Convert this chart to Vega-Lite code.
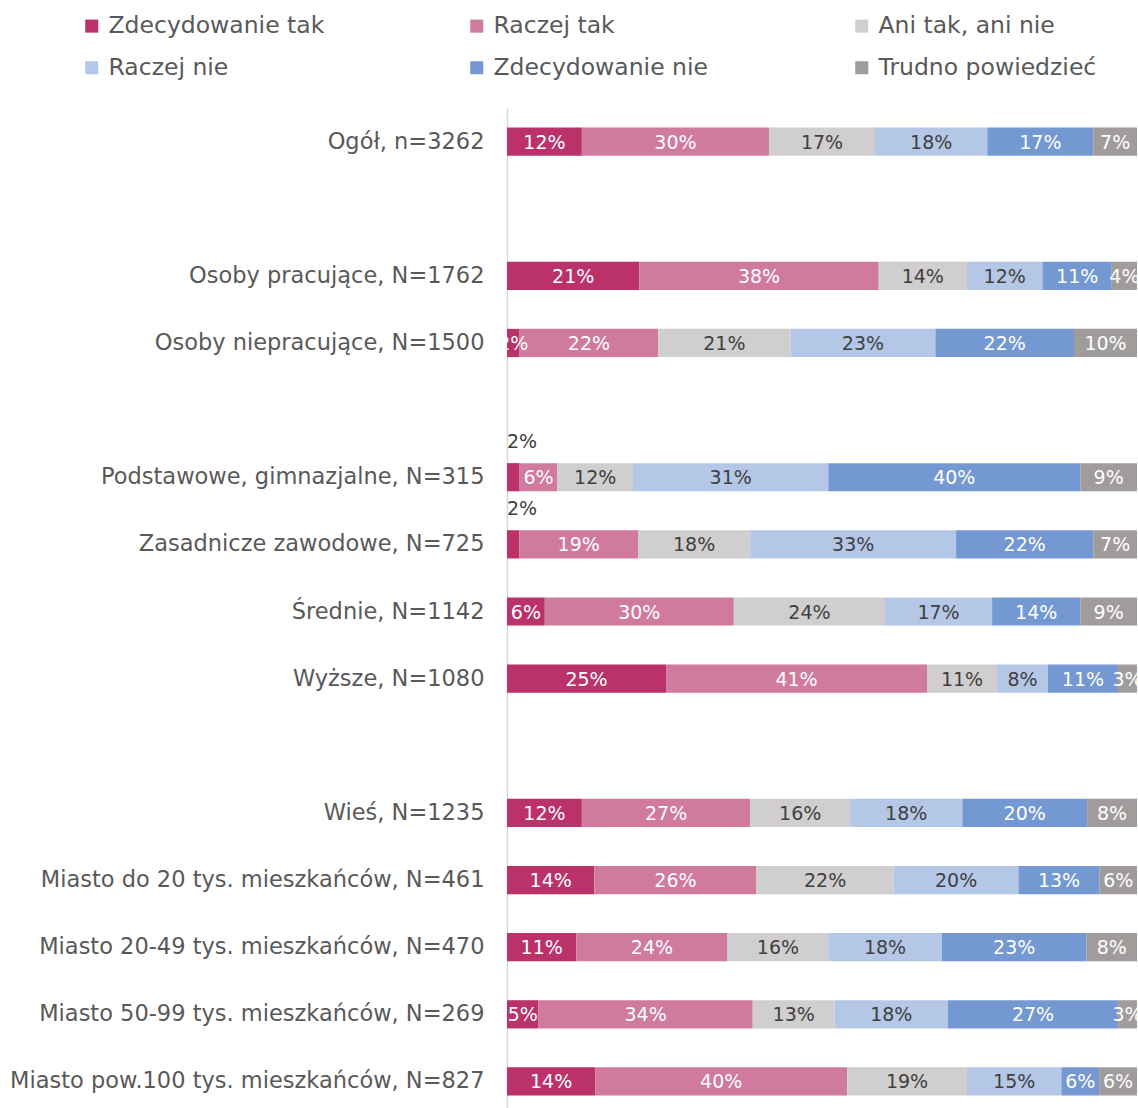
{
  "$schema": "https://vega.github.io/schema/vega-lite/v6.json",
  "autosize": "none",
  "width": 630,
  "height": 1007,
  "padding": {"left": 507, "top": 108, "right": 1, "bottom": 0},
  "background": "white",
  "config": {"view": {"stroke": null}, "font": "DejaVu Sans"},
  "data": {"values": [
    {"g": "Ogół, n=3262", "Zdecydowanie tak": 0.12, "Raczej tak": 0.30, "Ani tak, ani nie": 0.17, "Raczej nie": 0.18, "Zdecydowanie nie": 0.17, "Trudno powiedzieć": 0.07},
    {"g": "Osoby pracujące, N=1762", "Zdecydowanie tak": 0.21, "Raczej tak": 0.38, "Ani tak, ani nie": 0.14, "Raczej nie": 0.12, "Zdecydowanie nie": 0.11, "Trudno powiedzieć": 0.04},
    {"g": "Osoby niepracujące, N=1500", "Zdecydowanie tak": 0.02, "Raczej tak": 0.22, "Ani tak, ani nie": 0.21, "Raczej nie": 0.23, "Zdecydowanie nie": 0.22, "Trudno powiedzieć": 0.10},
    {"g": "Podstawowe, gimnazjalne, N=315", "Zdecydowanie tak": 0.02, "Raczej tak": 0.06, "Ani tak, ani nie": 0.12, "Raczej nie": 0.31, "Zdecydowanie nie": 0.40, "Trudno powiedzieć": 0.09},
    {"g": "Zasadnicze zawodowe, N=725", "Zdecydowanie tak": 0.02, "Raczej tak": 0.19, "Ani tak, ani nie": 0.18, "Raczej nie": 0.33, "Zdecydowanie nie": 0.22, "Trudno powiedzieć": 0.07},
    {"g": "Średnie, N=1142", "Zdecydowanie tak": 0.06, "Raczej tak": 0.30, "Ani tak, ani nie": 0.24, "Raczej nie": 0.17, "Zdecydowanie nie": 0.14, "Trudno powiedzieć": 0.09},
    {"g": "Wyższe, N=1080", "Zdecydowanie tak": 0.25, "Raczej tak": 0.41, "Ani tak, ani nie": 0.11, "Raczej nie": 0.08, "Zdecydowanie nie": 0.11, "Trudno powiedzieć": 0.03},
    {"g": "Wieś, N=1235", "Zdecydowanie tak": 0.12, "Raczej tak": 0.27, "Ani tak, ani nie": 0.16, "Raczej nie": 0.18, "Zdecydowanie nie": 0.20, "Trudno powiedzieć": 0.08},
    {"g": "Miasto do 20 tys. mieszkańców, N=461", "Zdecydowanie tak": 0.14, "Raczej tak": 0.26, "Ani tak, ani nie": 0.22, "Raczej nie": 0.20, "Zdecydowanie nie": 0.13, "Trudno powiedzieć": 0.06},
    {"g": "Miasto 20-49 tys. mieszkańców, N=470", "Zdecydowanie tak": 0.11, "Raczej tak": 0.24, "Ani tak, ani nie": 0.16, "Raczej nie": 0.18, "Zdecydowanie nie": 0.23, "Trudno powiedzieć": 0.08},
    {"g": "Miasto 50-99 tys. mieszkańców, N=269", "Zdecydowanie tak": 0.05, "Raczej tak": 0.34, "Ani tak, ani nie": 0.13, "Raczej nie": 0.18, "Zdecydowanie nie": 0.27, "Trudno powiedzieć": 0.03},
    {"g": "Miasto pow.100 tys. mieszkańców, N=827", "Zdecydowanie tak": 0.14, "Raczej tak": 0.40, "Ani tak, ani nie": 0.19, "Raczej nie": 0.15, "Zdecydowanie nie": 0.06, "Trudno powiedzieć": 0.06}
  ]},
  "transform": [
    {"fold": ["Zdecydowanie tak", "Raczej tak", "Ani tak, ani nie", "Raczej nie", "Zdecydowanie nie", "Trudno powiedzieć"], "as": ["key", "v"]},
    {"calculate": "indexof(['Zdecydowanie tak','Raczej tak','Ani tak, ani nie','Raczej nie','Zdecydowanie nie','Trudno powiedzieć'], datum.key)", "as": "ord"},
    {"stack": "v", "groupby": ["g"], "offset": "normalize", "sort": [{"field": "ord", "order": "ascending"}], "as": ["v0", "v1"]},
    {"calculate": "(datum.v0 + datum.v1) / 2", "as": "mid"}
  ],
  "encoding": {
    "y": {
      "field": "g", "type": "nominal",
      "scale": {
        "domain": ["Ogół, n=3262", " ", "Osoby pracujące, N=1762", "Osoby niepracujące, N=1500", "  ", "Podstawowe, gimnazjalne, N=315", "Zasadnicze zawodowe, N=725", "Średnie, N=1142", "Wyższe, N=1080", "   ", "Wieś, N=1235", "Miasto do 20 tys. mieszkańców, N=461", "Miasto 20-49 tys. mieszkańców, N=470", "Miasto 50-99 tys. mieszkańców, N=269", "Miasto pow.100 tys. mieszkańców, N=827"],
        "paddingInner": 0.58, "paddingOuter": 0.29
      },
      "axis": {"title": null, "ticks": false, "labelFontSize": 22.5, "labelColor": "#595959", "labelPadding": 23, "labelLimit": 600, "domainColor": "#D9D9D9", "domainWidth": 1.5, "grid": false}
    }
  },
  "layer": [
    {
      "mark": {"type": "bar"},
      "encoding": {
        "x": {"field": "v0", "type": "quantitative", "scale": {"domain": [0, 1], "nice": false, "zero": false}, "axis": null},
        "x2": {"field": "v1"},
        "color": {
          "field": "key", "type": "nominal",
          "scale": {"domain": ["Zdecydowanie tak", "Raczej tak", "Ani tak, ani nie", "Raczej nie", "Zdecydowanie nie", "Trudno powiedzieć"],
                    "range": ["#BA3269", "#D07A9E", "#D0CECE", "#B4C7E7", "#7498D2", "#A09C9C"]},
          "legend": {"title": null, "orient": "none", "legendX": -427, "legendY": -94, "direction": "horizontal", "columns": 3, "gridAlign": "all", "columnPadding": 138, "rowPadding": 17, "symbolType": "square", "symbolSize": 170, "symbolStrokeWidth": 0, "labelFontSize": 23.5, "labelColor": "#595959", "labelLimit": 400, "labelOffset": 5}
        }
      }
    },
    {
      "transform": [{"filter": "!((datum.g === 'Podstawowe, gimnazjalne, N=315' || datum.g === 'Zasadnicze zawodowe, N=725') && datum.key === 'Zdecydowanie tak')"}],
      "mark": {"type": "text", "fontSize": 19, "baseline": "middle", "align": "center", "dy": 1},
      "encoding": {
        "x": {"field": "mid", "type": "quantitative"},
        "text": {"field": "v", "type": "quantitative", "format": ".0%"},
        "color": {"condition": {"test": "datum.key === 'Ani tak, ani nie' || datum.key === 'Raczej nie'", "value": "#404040"}, "value": "white"}
      }
    },
    {
      "transform": [{"filter": "(datum.g === 'Podstawowe, gimnazjalne, N=315' || datum.g === 'Zasadnicze zawodowe, N=725') && datum.key === 'Zdecydowanie tak'"}],
      "mark": {"type": "text", "fontSize": 19, "baseline": "middle", "align": "left", "dy": -35, "color": "#404040"},
      "encoding": {
        "x": {"field": "v0", "type": "quantitative"},
        "text": {"field": "v", "type": "quantitative", "format": ".0%"}
      }
    }
  ]
}
